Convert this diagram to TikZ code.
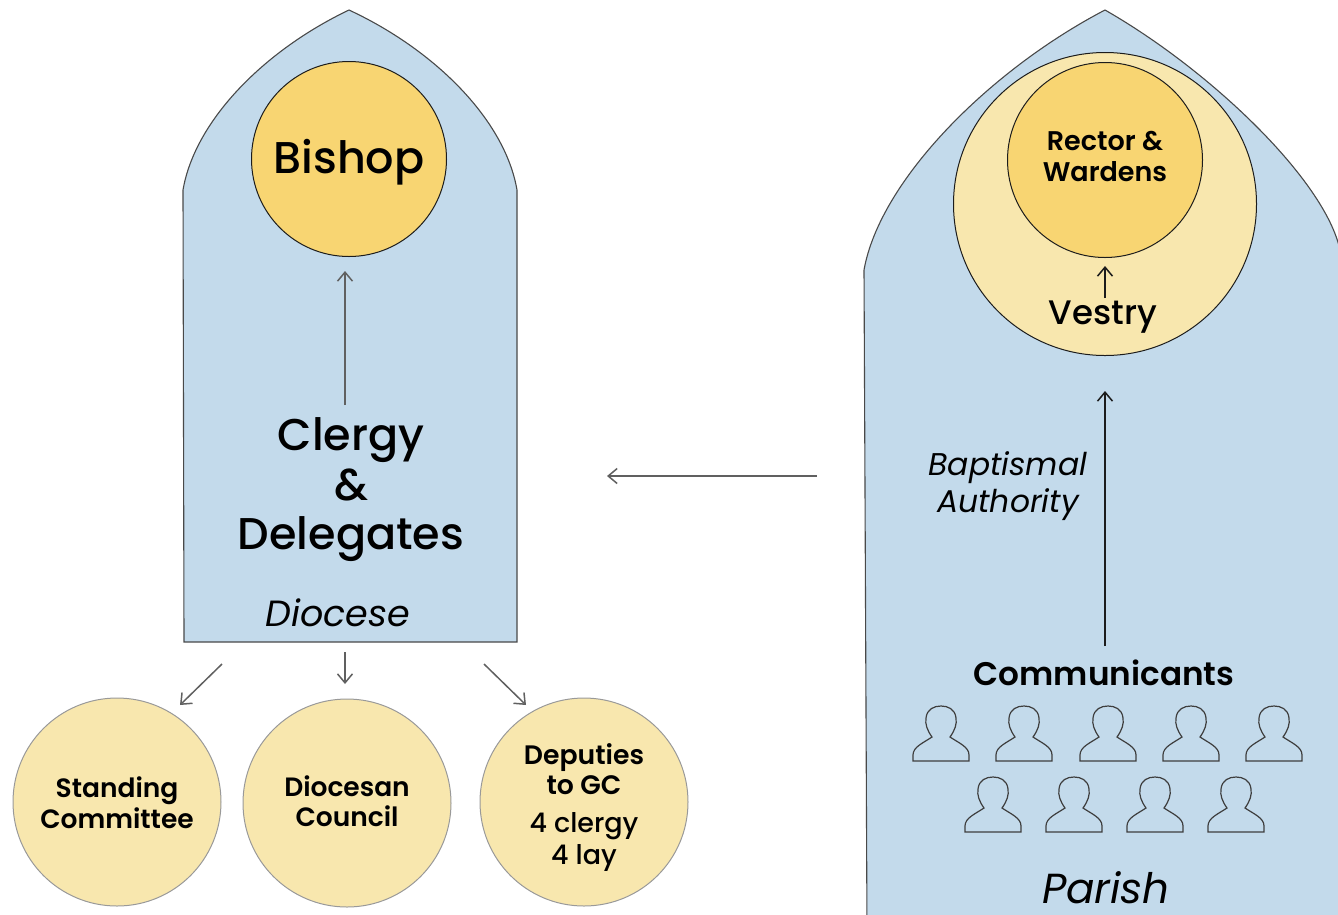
\documentclass[tikz,border=0pt]{standalone}
\usepackage{fontspec}
\setmainfont{Poppins}
\usetikzlibrary{arrows.meta}
\definecolor{church}{HTML}{C3DAEB}
\definecolor{gold}{HTML}{F8D572}
\definecolor{pale}{HTML}{F8E7AE}
\definecolor{ink}{HTML}{1C1C1C}
\newcommand{\medw}{\fontspec{Poppins Medium}}
\newcommand{\semi}{\fontspec{Poppins SemiBold}}
\newcommand{\ital}{\fontspec{Poppins Italic}}
\tikzset{x=1pt,y=-1pt,
 shell/.style={draw=ink!80,line width=1.1pt,fill=church},
 disc/.style={circle,draw=ink,line width=1pt,inner sep=0pt,align=center,text=black},
 paledisc/.style={disc,draw=ink!45,fill=pale,minimum size=208pt},
 arrow/.style={draw=ink!70,line width=1.5pt,-{Straight Barb[length=9pt,width=15pt,line width=1.5pt]}},
 arrowdark/.style={arrow,draw=ink},
 lab/.style={inner sep=0pt,align=center,text=black},
 person/.style={draw=ink!85,line width=1.2pt,fill=none}
}
\newcommand{\prs}[2]{\draw[person,shift={(#1,#2)}] (-28,55) -- (-28,49) .. controls (-28,41) and (-18,37) .. (-9,31) .. controls (-14,24) and (-16,18) .. (-15,12) .. controls (-14,3) and (-7,0) .. (0,0) .. controls (7,0) and (14,3) .. (15,12) .. controls (16,18) and (14,24) .. (9,31) .. controls (18,37) and (28,41) .. (28,49) -- (28,55) -- cycle;}
\begin{document}
\begin{tikzpicture}
\useasboundingbox (0,0) rectangle (1338,914);
\draw[shell] (184,642) -- (183,190) .. controls (195,120) and (265,50) .. (349,10) .. controls (435,50) and (505,120) .. (517,190) -- (517,642) -- cycle;
\draw[shell] (867,930) -- (864,270) .. controls (880,180) and (990,70) .. (1105,10) .. controls (1210,70) and (1325,180) .. (1340,250) -- (1340,930);
\node[disc,fill=gold,minimum size=195pt] (bishop) at (349,159) {};
\node[lab,font=\fontsize{44.5}{50}\medw] (bishoptxt) at (349,162) {Bishop};
\node[disc,fill=pale,minimum size=303pt] (vestryc) at (1105,204) {};
\node[disc,fill=gold,minimum size=195pt,font=\fontsize{27}{31}\semi] (rector) at (1105,160) {};
\node[lab,font=\fontsize{27}{31}\semi] (rectortxt) at (1105,156) {Rector \&\\Wardens};
\node[lab,font=\fontsize{34}{40}\medw] (vestry) at (1103,317) {Vestry};
\node[lab,font=\fontsize{44.5}{49.5}\medw] (clergy) at (351,490) {Clergy\\\&\\Delegates};
\node[lab,font=\fontsize{36.5}{40}\ital] (diocese) at (338,613) {Diocese};
\node[lab,font=\fontsize{31.4}{37}\ital] (bapt) at (1008,486) {Baptismal\\Authority};
\node[lab,font=\fontsize{32.7}{38}\semi] (comm) at (1104,673) {Communicants};
\node[lab,font=\fontsize{42}{46}\ital,text height=32pt,text depth=0pt] (parish) at (1106,887) {Parish};
\node[paledisc] (sc) at (117,802) {};
\node[lab,font=\fontsize{26.5}{31}\semi] (sctxt) at (117,803) {Standing\\Committee};
\node[paledisc] (dc) at (347,803) {};
\node[lab,font=\fontsize{26.5}{30}\semi] (dctxt) at (347,801) {Diocesan\\Council};
\node[paledisc] (dep) at (584,802) {};
\node[lab,font=\fontsize{26.7}{30}\semi] (deptxt) at (584,769) {Deputies\\to GC};
\node[lab,font=\fontsize{27}{32}\medw] (clay) at (584,842) {4 clergy\\4 lay};
\coordinate (a1) at (345,405); \coordinate (a1e) at (345,271);
\draw[arrow] (a1) -- (a1e);
\coordinate (a2) at (1105,298); \coordinate (a2e) at (1105,266);
\draw[arrowdark] (a2) -- (a2e);
\coordinate (a3) at (1105,646); \coordinate (a3e) at (1105,391);
\draw[arrowdark] (a3) -- (a3e);
\coordinate (a4) at (817,476); \coordinate (a4e) at (607,476);
\draw[arrow] (a4) -- (a4e);
\coordinate (a5) at (222,664); \coordinate (a5e) at (180,705);
\draw[arrow] (a5) -- (a5e);
\coordinate (a6) at (345,652); \coordinate (a6e) at (345,684);
\draw[arrow] (a6) -- (a6e);
\coordinate (a7) at (484,664); \coordinate (a7e) at (526,705);
\draw[arrow] (a7) -- (a7e);
\prs{941}{706}\prs{1024}{706}\prs{1108}{706}\prs{1191}{706}\prs{1274}{706}
\prs{993}{777}\prs{1074}{777}\prs{1155}{777}\prs{1236}{777}
\end{tikzpicture}
\end{document}
